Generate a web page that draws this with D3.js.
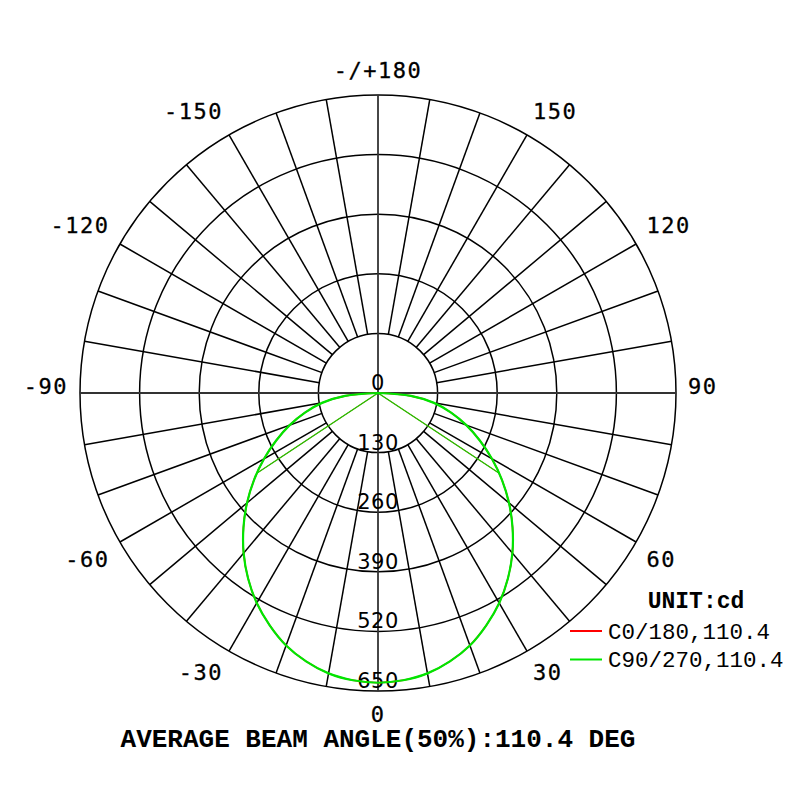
<!DOCTYPE html>
<html>
<head>
<meta charset="utf-8">
<script src="https://cdn.jsdelivr.net/npm/d3@7"></script>
<style>
  body { margin: 0; background: #fff; }
</style>
</head>
<body>
<div id="chart"></div>
<script>
// Dati
const ringValues = [130, 260, 390, 520, 650];
const angleTicks = [0, 30, 60, 90, 120, 150, 180, -150, -120, -90, -60, -30];
const angleTickLabels = ["0", "30", "60", "90", "120", "150", "-/+180", "-150", "-120", "-90", "-60", "-30"];
const halfAngles = [0, 5, 10, 15, 20, 25, 30, 35, 40, 45, 50, 55, 60, 65, 70, 75, 80, 85, 90];
const halfValues = [632, 629, 621, 606, 586, 559, 529, 494, 456, 415, 373, 330, 287, 245, 205, 165, 124, 72, 0];
const chordAngles = [-56.5, 56.5];
const chordValues = [318, 318];
const seriesNames = ["C0/180,110.4", "C90/270,110.4"];
const seriesColors = ["#ff0000", "#00e600"];
const unitLabel = "UNIT:cd";
const titleText = "AVERAGE BEAM ANGLE(50%):110.4 DEG";

const width = 800, height = 800;
const cx = 378, cy = 393;
const outerR = 298;

// curva completa da -90 a 90
const curve = halfAngles.slice(1).reverse().map((a, i) => ({ a: -a, v: halfValues[halfValues.length - 1 - i] }))
    .concat(halfAngles.map((a, i) => ({ a: a, v: halfValues[i] })));

const svg = d3.select("#chart").append("svg")
    .attr("width", width)
    .attr("height", height);

const g = svg.append("g").attr("transform", `translate(${cx},${cy})`);

const r = d3.scaleLinear().domain([0, 650]).range([0, outerR]);
// 0 gradi in basso, 90 a destra
const ang = d3.scaleLinear().domain([-180, 180]).range([2 * Math.PI, 0]);
const px = (a, v) => r(v) * Math.sin(ang(a));
const py = (a, v) => -r(v) * Math.cos(ang(a));

// Cerchi
g.append("g")
    .selectAll("circle")
    .data(ringValues)
    .join("circle")
    .attr("r", d => r(d))
    .attr("fill", "none")
    .attr("stroke", "#000")
    .attr("stroke-width", 1.5);

// Raggi ogni 10 gradi
const spokes = d3.range(-170, 190, 10).filter(a => a % 90 !== 0);
g.append("g")
    .selectAll("line")
    .data(spokes)
    .join("line")
    .attr("x1", d => px(d, ringValues[0]))
    .attr("y1", d => py(d, ringValues[0]))
    .attr("x2", d => px(d, 650))
    .attr("y2", d => py(d, 650))
    .attr("stroke", "#000")
    .attr("stroke-width", 1.5);

// Assi principali
g.append("g")
    .selectAll("line")
    .data([0, 90])
    .join("line")
    .attr("x1", d => px(d, 650))
    .attr("y1", d => py(d, 650))
    .attr("x2", d => px(d + 180, 650))
    .attr("y2", d => py(d + 180, 650))
    .attr("stroke", "#333")
    .attr("stroke-width", 1.8);

// Etichette degli anelli
g.append("g")
    .selectAll("text")
    .data([0].concat(ringValues))
    .join("text")
    .attr("x", 0)
    .attr("y", d => r(d) - 3)
    .attr("text-anchor", "middle")
    .attr("font-family", "DejaVu Sans")
    .attr("font-size", 21)
    .attr("letter-spacing", 0.5)
    .attr("fill", "#000")
    .text(d => d);

// Etichette degli angoli
const labR = 310;
g.append("g")
    .selectAll("text")
    .data(angleTicks)
    .join("text")
    .attr("x", d => labR * Math.sin(ang(d)))
    .attr("y", d => {
        const c = -Math.cos(ang(d));
        const dy = c > 0.01 ? 11 : (c < -0.01 ? -13 : -7);
        return -labR * Math.cos(ang(d)) + dy;
    })
    .attr("dy", "0.36em")
    .attr("text-anchor", d => {
        const s = Math.sin(ang(d));
        return s > 0.01 ? "start" : (s < -0.01 ? "end" : "middle");
    })
    .attr("font-family", "DejaVu Sans Mono")
    .attr("font-size", 22)
    .attr("letter-spacing", 1.5)
    .attr("fill", "#000")
    .attr("stroke", "#000")
    .attr("stroke-width", 0.3)
    .text((d, i) => angleTickLabels[i]);

// Curve
const line = d3.lineRadial()
    .angle(d => ang(d.a))
    .radius(d => r(d.v));

const smooth = d3.lineRadial()
    .angle(d => ang(d.a))
    .radius(d => r(d.v))
    .curve(d3.curveCatmullRom);

const chord = [{ a: chordAngles[0], v: chordValues[0] }, { a: 0, v: 0 }, { a: chordAngles[1], v: chordValues[1] }];

seriesColors.forEach((col, i) => {
    g.append("path")
        .attr("d", line(chord))
        .attr("fill", "none")
        .attr("stroke", i === 0 ? col : "#22c400")
        .attr("stroke-width", i === 0 ? 0.8 : 1.4);
    g.append("path")
        .attr("d", smooth(curve))
        .attr("fill", "none")
        .attr("stroke", col)
        .attr("stroke-width", i === 0 ? 1.6 : 2.2);
});

// Legenda
svg.append("text")
    .attr("x", 696)
    .attr("y", 600)
    .attr("dy", "0.35em")
    .attr("text-anchor", "middle")
    .attr("font-family", "Liberation Mono")
    .attr("font-weight", "bold")
    .attr("font-size", 23)
    .attr("fill", "#000")
    .text(unitLabel);

const leg = svg.append("g")
    .selectAll("g")
    .data(seriesNames)
    .join("g")
    .attr("transform", (d, i) => `translate(570,${631 + i * 28.5})`);

leg.append("line")
    .attr("x1", 0)
    .attr("x2", 32)
    .attr("stroke", (d, i) => seriesColors[i])
    .attr("stroke-width", 2);

leg.append("text")
    .attr("x", 38)
    .attr("dy", "0.35em")
    .attr("font-family", "Liberation Mono")
    .attr("font-size", 22.5)
    .attr("fill", "#000")
    .text(d => d);

// Titolo
svg.append("text")
    .attr("x", 378)
    .attr("y", 738)
    .attr("dy", "0.35em")
    .attr("text-anchor", "middle")
    .attr("font-family", "Liberation Mono")
    .attr("font-weight", "bold")
    .attr("font-size", 26)
    .attr("fill", "#000")
    .text(titleText);
</script>
</body>
</html>
